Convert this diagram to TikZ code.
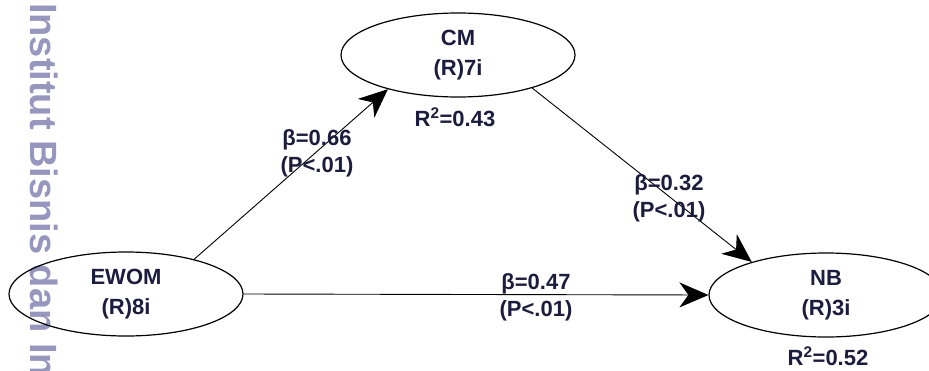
\documentclass[tikz,border=0pt]{standalone}
\usepackage{fontspec}
\setmainfont{Liberation Sans}
\usetikzlibrary{shapes.geometric,arrows.meta}
\definecolor{txtnavy}{RGB}{28,28,62}
\definecolor{wmark}{RGB}{150,150,190}
\tikzset{
  latent/.style={ellipse, draw, line width=1.2pt, minimum width=234pt, minimum height=84pt,
    inner sep=0pt, align=center, text=txtnavy, font=\bfseries\fontsize{22}{30}\selectfont},
  coef/.style={align=center, inner sep=0pt, text=txtnavy, font=\bfseries\fontsize{22}{27}\selectfont},
  regline/.style={draw, line width=0.9pt, -{Stealth[length=29pt,width=25pt,inset=9pt]}}
}

\begin{document}
\begin{tikzpicture}[x=1pt,y=-1pt]
\clip (0,0) rectangle (929,370);
% watermark
\node[rotate=-90, anchor=base west, inner sep=0pt, text=wmark,
  font=\bfseries\fontsize{38}{38}\selectfont] (wm) at (30,3) {Institut Bisnis dan In};

% constructs
\node[latent] (cm) at (458,55) {CM\\(R)7i};
\node[latent] (ewom) at (126,294) {EWOM\\(R)8i};
\node[latent] (nb) at (826,295) {NB\\(R)3i};

\node[coef] (r43) at (455,117) {R\textsuperscript{2}=0.43};
\node[coef] (r52) at (828,356) {R\textsuperscript{2}=0.52};

% paths
\draw[regline] (ewom.27) -- (cm.206);
\draw[regline] (cm.-24) -- (nb.156);
\draw[regline] (ewom.east) -- (nb.west);

\node[coef] (b66) at (317,153) {β=0.66\\(P<.01)};
\node[coef] (b32) at (669,198) {β=0.32\\(P<.01)};
\node[coef] (b47) at (536,297) {β=0.47\\(P<.01)};
\end{tikzpicture}
\end{document}
